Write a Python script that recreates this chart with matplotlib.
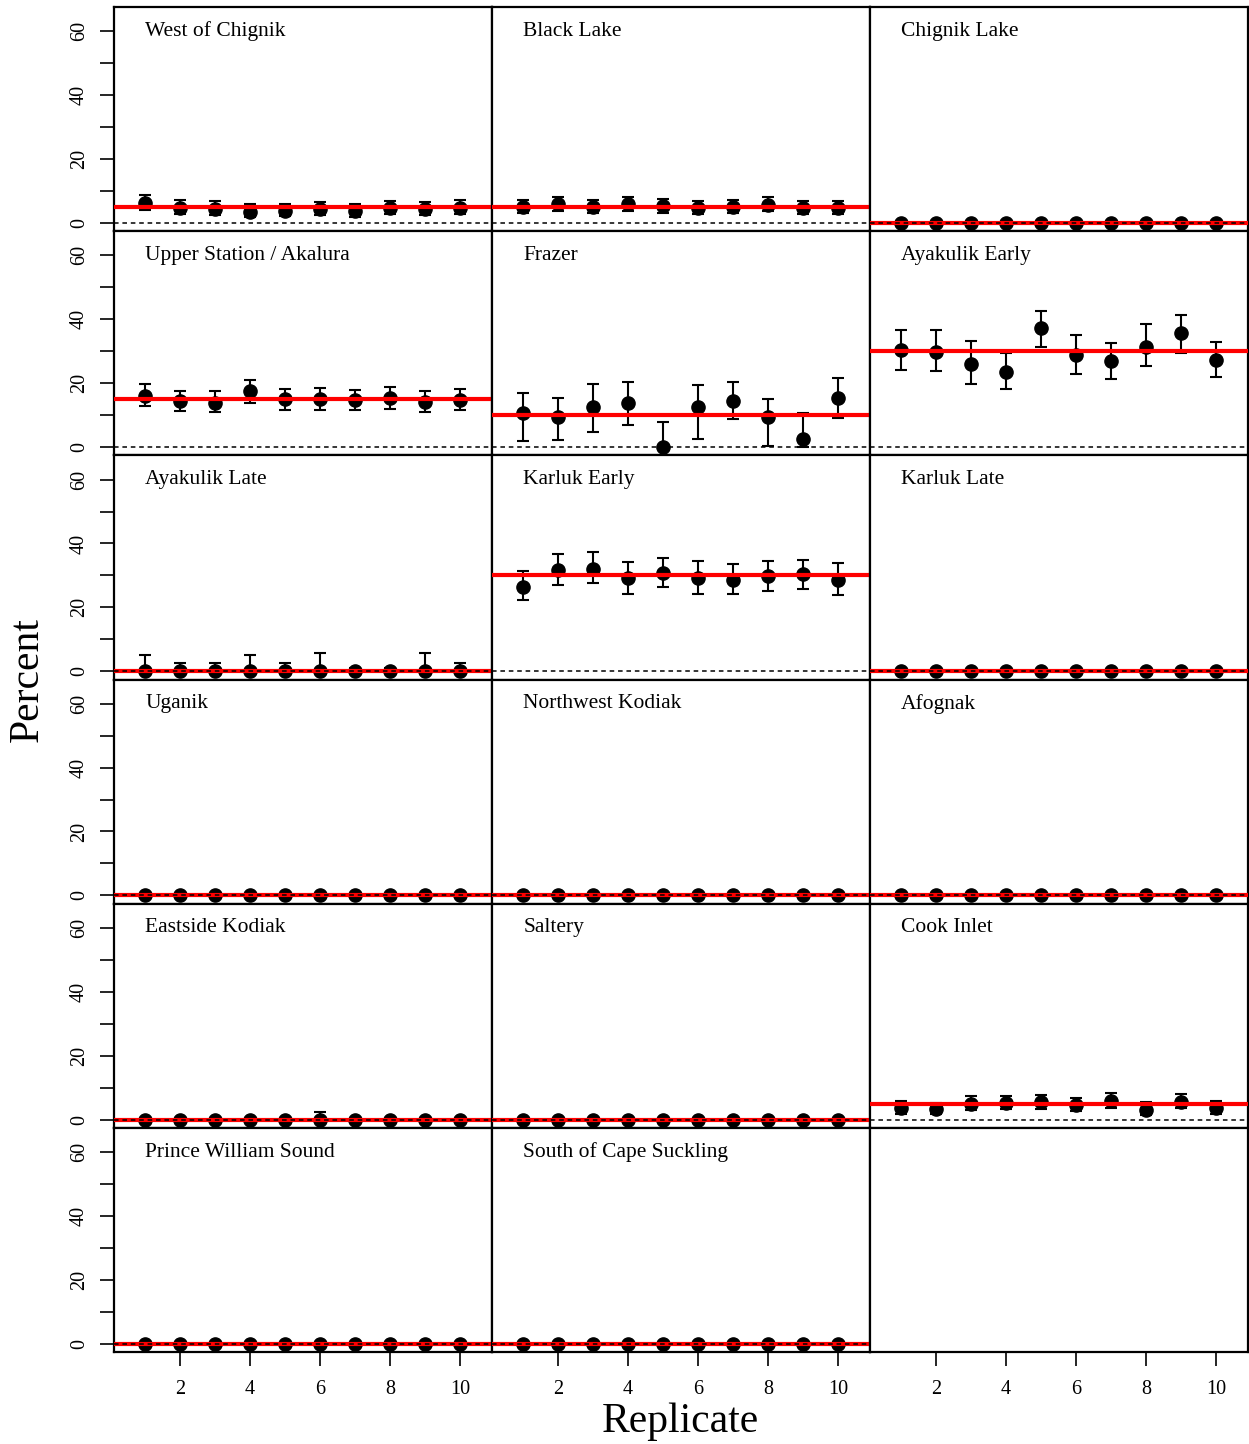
import matplotlib.pyplot as plt
import numpy as np

plt.rcParams['font.family'] = ['Liberation Serif', 'DejaVu Serif']

# ## DATA
replicate = np.arange(1, 11)

stocks = ['West of Chignik', 'Black Lake', 'Chignik Lake',
          'Upper Station / Akalura', 'Frazer', 'Ayakulik Early',
          'Ayakulik Late', 'Karluk Early', 'Karluk Late',
          'Uganik', 'Northwest Kodiak', 'Afognak',
          'Eastside Kodiak', 'Saltery', 'Cook Inlet',
          'Prince William Sound', 'South of Cape Suckling']
true_pct = [5, 5, 0, 15, 10, 30, 0, 30, 0, 0, 0, 0, 0, 0, 5, 0, 0]

zeros = [0] * 10

west_est = [6.2, 4.8, 4.3, 3.5, 3.8, 4.3, 3.8, 4.8, 4.3, 4.8]
west_lo = [4.0, 2.8, 2.4, 1.8, 2.0, 2.4, 1.9, 2.8, 2.4, 2.8]
west_hi = [8.6, 7.2, 6.7, 5.9, 5.9, 6.5, 5.9, 7.0, 6.5, 7.1]

black_est = [5.1, 5.8, 5.0, 5.8, 5.3, 4.6, 5.0, 5.7, 4.7, 4.7]
black_lo = [3.1, 3.7, 3.0, 3.7, 3.2, 2.7, 3.0, 3.6, 2.8, 2.8]
black_hi = [7.3, 8.1, 7.2, 8.0, 7.6, 6.7, 7.2, 8.0, 6.9, 6.9]

upper_est = [16.1, 14.4, 13.9, 17.6, 14.9, 15.0, 14.7, 15.4, 14.1, 14.6]
upper_lo = [12.8, 11.3, 10.9, 13.9, 11.6, 11.6, 11.6, 12.0, 11.0, 11.5]
upper_hi = [19.7, 17.7, 17.5, 21.1, 18.2, 18.4, 18.0, 18.8, 17.7, 18.1]

frazer_est = [10.7, 9.3, 12.6, 13.9, 0.1, 12.4, 14.4, 9.3, 2.4, 15.4]
frazer_lo = [2.0, 2.3, 4.8, 6.8, 0.0, 2.6, 8.8, 0.4, 0.0, 9.2]
frazer_hi = [17.0, 15.2, 19.7, 20.5, 7.9, 19.4, 20.5, 15.1, 10.6, 21.7]

ayak_e_est = [30.3, 29.8, 26.1, 23.6, 37.4, 28.8, 26.8, 31.4, 35.7, 27.2]
ayak_e_lo = [24.2, 23.8, 19.6, 18.2, 31.2, 22.8, 21.3, 25.4, 29.5, 21.8]
ayak_e_hi = [36.7, 36.6, 33.2, 29.3, 42.5, 35.1, 32.7, 38.4, 41.5, 33.0]

ayak_l_hi = [5.2, 2.5, 2.5, 5.2, 2.5, 5.7, 1.0, 1.0, 5.7, 2.7]

karluk_e_est = [26.5, 31.7, 32.1, 29.2, 30.8, 29.2, 28.7, 29.9, 30.3, 28.7]
karluk_e_lo = [22.2, 27.1, 27.5, 24.3, 26.4, 24.1, 24.1, 25.2, 25.6, 23.9]
karluk_e_hi = [31.4, 36.6, 37.2, 34.1, 35.6, 34.4, 33.6, 34.6, 34.9, 34.0]

eastside_hi = [0.5, 0.5, 0.5, 0.5, 0.5, 2.4, 0.5, 0.5, 0.5, 0.5]

cook_est = [3.6, 3.3, 4.9, 5.2, 5.5, 4.4, 5.7, 3.1, 5.6, 3.5]
cook_lo = [1.8, 1.7, 3.0, 3.2, 3.4, 2.6, 3.6, 1.5, 3.5, 1.8]
cook_hi = [5.9, 5.2, 7.3, 7.5, 7.8, 6.6, 8.2, 5.5, 7.9, 5.9]

estimates = [west_est, black_est, zeros, upper_est, frazer_est, ayak_e_est,
             zeros, karluk_e_est, zeros, zeros, zeros, zeros,
             zeros, zeros, cook_est, zeros, zeros]
lowers = [west_lo, black_lo, zeros, upper_lo, frazer_lo, ayak_e_lo,
          zeros, karluk_e_lo, zeros, zeros, zeros, zeros,
          zeros, zeros, cook_lo, zeros, zeros]
uppers = [west_hi, black_hi, zeros, upper_hi, frazer_hi, ayak_e_hi,
          ayak_l_hi, karluk_e_hi, zeros, zeros, zeros, zeros,
          eastside_hi, zeros, cook_hi, zeros, zeros]

# ## PLOT
W, H = 1249, 1444
fig, axes = plt.subplots(6, 3, figsize=(W / 100, H / 100), dpi=100)
plt.subplots_adjust(left=114 / W, right=1248 / W, top=1 - 7 / H,
                    bottom=1 - 1352 / H, wspace=0, hspace=0)

for i, ax in enumerate(axes.flat):
    row, col = divmod(i, 3)
    ax.set_xlim(0.11, 10.91)
    ax.set_ylim(-2.6, 67.6)
    for sp in ax.spines.values():
        sp.set_linewidth(1.6)
    ax.tick_params(direction='out', length=10, width=1.2, labelsize=14.5)
    ax.set_yticks(np.arange(0, 61, 10))
    ax.set_yticklabels(['0', '', '20', '', '40', '', '60'], rotation=90, va='center')
    ax.set_xticks(np.arange(2, 11, 2))
    ax.tick_params(axis='y', pad=8)
    ax.tick_params(axis='x', pad=10)
    if col != 0:
        ax.tick_params(axis='y', left=False, labelleft=False)
    if row != 5:
        ax.tick_params(axis='x', bottom=False, labelbottom=False)
    if i >= len(stocks):
        continue

    est = np.array(estimates[i], dtype=float)
    lo = np.array(lowers[i], dtype=float)
    hi = np.array(uppers[i], dtype=float)
    yerr = [est - lo, hi - est]
    ax.errorbar(replicate, est, yerr=yerr, fmt='o', color='black', markersize=9.5,
                elinewidth=1.5, capsize=4, capthick=1.5, zorder=2)
    ax.axhline(true_pct[i], color='#FF0000', linewidth=3, zorder=3)
    ax.axhline(0, color='black', linestyle=(0, (3, 2.5)), linewidth=1.1, zorder=4)
    ax.text(1, 60, stocks[i], fontsize=15.5, va='center', ha='left')

fig.text(28 / W, 1 - 680 / H, 'Percent', fontsize=30, rotation=90, ha='center', va='center')
fig.text(680 / W, 1 - 1422 / H, 'Replicate', fontsize=30, ha='center', va='center')

fig.savefig('out.png', dpi=100)
